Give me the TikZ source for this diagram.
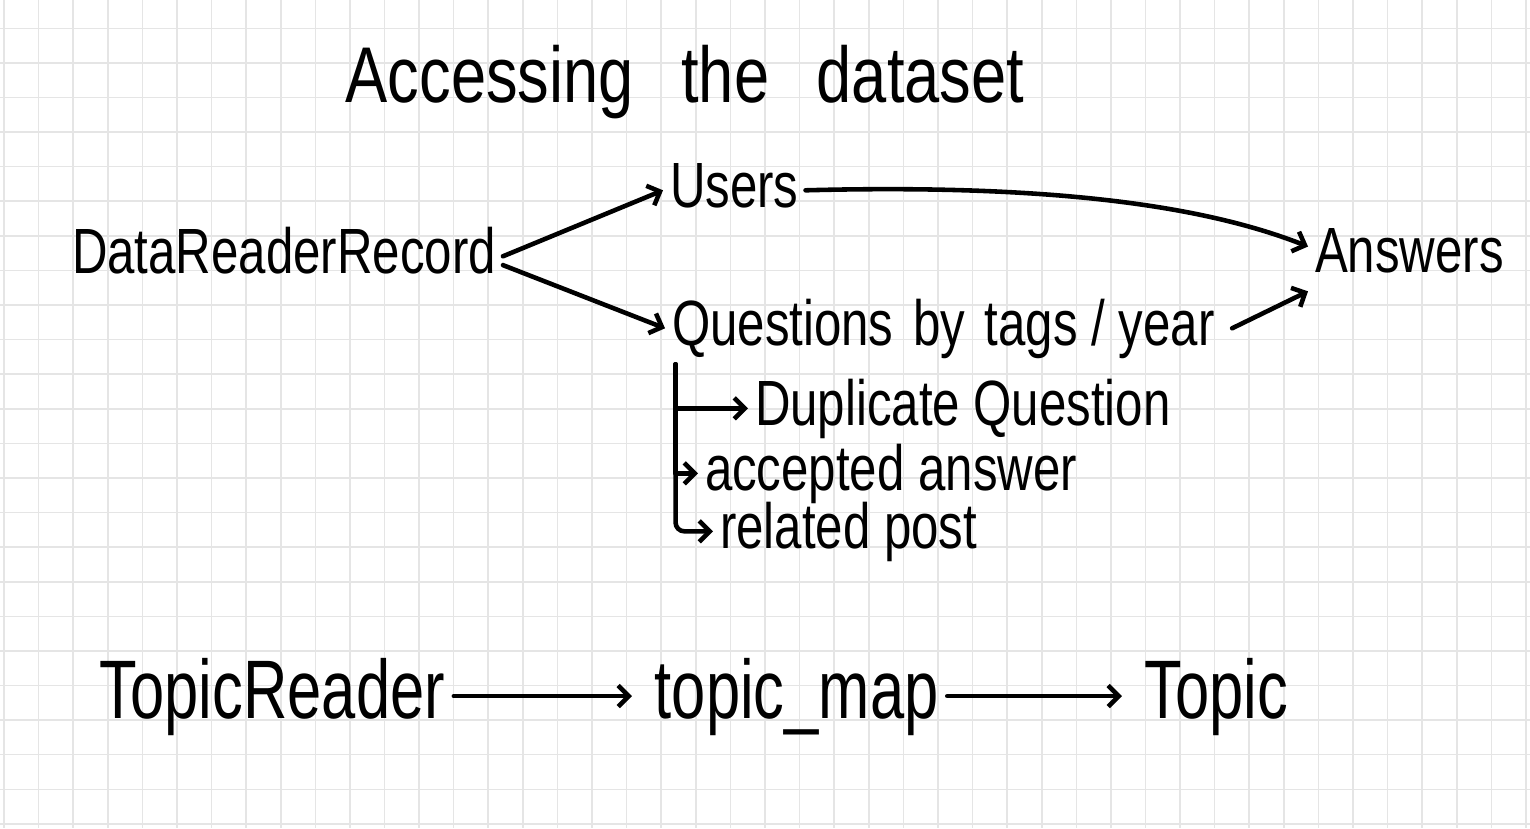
\documentclass[tikz,border=0pt]{standalone}
\usepackage{fontspec}
\setmainfont{Liberation Sans}
\usetikzlibrary{arrows.meta, positioning}
\newcommand{\stretchv}[2][1.3]{\scalebox{1}[#1]{#2}}

\begin{document}
\begin{tikzpicture}[
    x=0.02cm, y=-0.02cm,
    grid/.style={draw=gray!20, line width=0.9pt},
    heading/.style={anchor=base, inner sep=0pt, font=\fontsize{36}{40}\selectfont},
    term/.style={anchor=base west, inner sep=0pt, outer sep=4pt, text height=26pt, text depth=7pt, font=\fontsize{28}{32}\selectfont},
    bigterm/.style={anchor=base west, inner sep=0pt, outer sep=5pt, text height=34pt, text depth=9pt, font=\fontsize{35}{40}\selectfont},
    arrow/.style={-{Straight Barb[length=6pt,width=12pt]}, line width=2.6pt, line cap=round, line join=round}
]
    \fill[white] (0,0) rectangle (1530,828);
    \useasboundingbox (0,0) rectangle (1530,828);
    \foreach \i in {0,...,44} \draw[grid] ({4+34.59*\i},0) -- ++(0,828);
    \foreach \j in {0,...,23} \draw[grid] (0,{28.3+34.59*\j}) -- ++(1530,0);

    \node [heading] (title) at (685,103) {\stretchv[1.25]{Accessing\hspace{0.75em}the\hspace{0.75em}dataset}};
    \node [term] (drr) at (65,273) {\stretchv{DataReaderRecord}};
    \node [term] (users) at (663,207) {\stretchv{Users}};
    \node [term] (answers) at (1308,272) {\stretchv{Answers}};
    \node [term] (quest) at (665,345) {\stretchv{Questions\hspace{0.4em}by\hspace{0.4em}tags / year}};
    \node [term] (dup) at (748,425) {\stretchv{Duplicate Question}};
    \node [term] (acc) at (698,490) {\stretchv{accepted answer}};
    \node [term] (rel) at (713,548) {\stretchv{related post}};
    \node [bigterm] (treader) at (91,718) {\stretchv[1.35]{TopicReader}};
    \node [bigterm] (tmap) at (646,718) {\stretchv[1.35]{topic\_map}};
    \node [bigterm] (topic) at (1136,718) {\stretchv[1.35]{Topic}};
    \coordinate (fork) at ([xshift=6pt]quest.south west);

    \draw [arrow] (drr.east) -- (users.west);
    \draw [arrow] ([yshift=-5pt]drr.east) -- (quest.west);
    \draw [arrow] (users.east) .. controls (1080,183) and (1220,212) .. ([yshift=5pt]answers.west);
    \draw [arrow] ([xshift=6pt]quest.east) -- (answers.south west);
    \draw [arrow] (fork) |- (dup.west);
    \draw [arrow] (fork) |- (acc.west);
    \draw [arrow, rounded corners=5pt] (fork) |- (rel.west);
    \draw [arrow, shorten >=8pt] (treader) -- (tmap);
    \draw [arrow, shorten >=8pt] (tmap) -- (topic);
\end{tikzpicture}
\end{document}
